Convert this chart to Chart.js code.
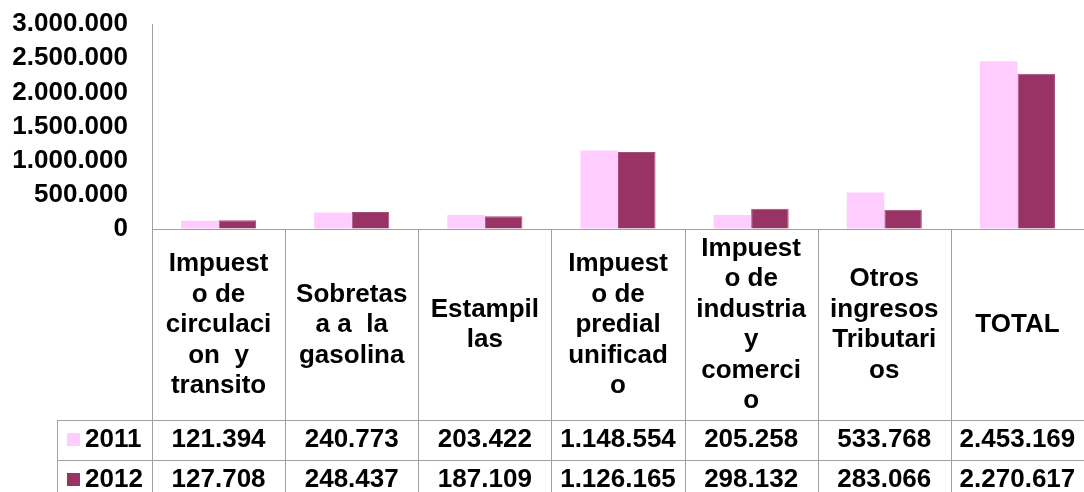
<!DOCTYPE html>
<html>
<head>
<meta charset="utf-8">
<script src="https://cdn.jsdelivr.net/npm/chart.js@4"></script>
<style>
  html, body { margin: 0; padding: 0; background: #ffffff; }
  #wrap { position: relative; width: 1084px; height: 492px; }
</style>
</head>
<body>
<div id="wrap"><canvas id="c"></canvas></div>
<script>
// ---- data ----
const categoryLines = [
  ["Impuest", "o de", "circulaci", "on  y", "transito"],
  ["Sobretas", "a a  la", "gasolina"],
  ["Estampil", "las"],
  ["Impuest", "o de", "predial", "unificad", "o"],
  ["Impuest", "o de", "industria", "y", "comerci", "o"],
  ["Otros", "ingresos", "Tributari", "os"],
  ["TOTAL"]
];
const seriesNames = ["2011", "2012"];
const values2011 = [121394, 240773, 203422, 1148554, 205258, 533768, 2453169];
const values2012 = [127708, 248437, 187109, 1126165, 298132, 283066, 2270617];
const yTickValues = [0, 500000, 1000000, 1500000, 2000000, 2500000, 3000000];
const seriesColors = ["#FFCCFF", "#993366"];

function fmt(v) {
  return String(v).replace(/\B(?=(\d{3})+(?!\d))/g, ".");
}

const FONT = "bold 26px 'Liberation Sans', Arial, sans-serif";
const GRID = "#A0A0A0";

const tablePlugin = {
  id: "dataTable",
  afterDraw(chart) {
    const ctx = chart.ctx;
    const a = chart.chartArea;
    const xs = chart.scales.x;
    const n = categoryLines.length;
    const cw = (a.right - a.left) / n;
    const H = chart.height;
    const headerBottom = a.bottom + 191;
    const row1Bottom = headerBottom + 40;
    const legendLeft = 57;

    ctx.save();
    ctx.strokeStyle = GRID;
    ctx.lineWidth = 1;
    ctx.beginPath();
    ctx.moveTo(a.left, Math.round(a.bottom) + 0.5);
    ctx.lineTo(a.right, Math.round(a.bottom) + 0.5);
    ctx.moveTo(legendLeft, headerBottom + 0.5);
    ctx.lineTo(a.right, headerBottom + 0.5);
    ctx.moveTo(legendLeft, row1Bottom + 0.5);
    ctx.lineTo(a.right, row1Bottom + 0.5);
    ctx.moveTo(legendLeft + 0.5, headerBottom);
    ctx.lineTo(legendLeft + 0.5, H);
    for (let i = 0; i <= n; i++) {
      const x = Math.round(a.left + i * cw) + 0.5;
      ctx.moveTo(x, i === 0 ? a.top : a.bottom);
      ctx.lineTo(x, H);
    }
    ctx.stroke();

    ctx.fillStyle = "#000000";
    ctx.font = FONT;
    ctx.textAlign = "center";
    ctx.textBaseline = "middle";
    const lh = 30.5;
    const hc = a.bottom + 96;
    categoryLines.forEach((lines, i) => {
      const cx = xs.getPixelForValue(i);
      const y0 = hc - (lines.length - 1) * lh / 2;
      lines.forEach((t, j) => ctx.fillText(t, cx, y0 + j * lh));
    });

    const rows = [values2011, values2012];
    const rowY = [headerBottom + 20, row1Bottom + 20];
    rows.forEach((vals, r) => {
      vals.forEach((v, i) => {
        ctx.fillText(fmt(v), xs.getPixelForValue(i), rowY[r]);
      });
      ctx.fillStyle = seriesColors[r];
      ctx.fillRect(67, rowY[r] - 7, 13, 13);
      ctx.fillStyle = "#000000";
      ctx.textAlign = "left";
      ctx.fillText(seriesNames[r], 85, rowY[r]);
      ctx.textAlign = "center";
    });
    ctx.restore();
  }
};

new Chart(document.getElementById("c"), {
  type: "bar",
  data: {
    labels: categoryLines.map(l => l.join(" ")),
    datasets: [
      { label: seriesNames[0], data: values2011, backgroundColor: seriesColors[0], borderWidth: 0 },
      { label: seriesNames[1], data: values2012, backgroundColor: seriesColors[1], borderColor: "#A34F7A", borderWidth: 1 }
    ]
  },
  options: {
    responsive: true,
    maintainAspectRatio: false,
    animation: false,
    events: [],
    layout: { padding: { top: 24, right: 0, bottom: 263, left: 0 } },
    plugins: { legend: { display: false }, tooltip: { enabled: false }, title: { display: false } },
    datasets: { bar: { categoryPercentage: 0.564, barPercentage: 1.0 } },
    scales: {
      x: {
        display: false,
        offset: true
      },
      y: {
        min: 0,
        max: 3000000,
        afterFit(scale) { scale.width = 152; scale.paddingTop = 0; scale.paddingBottom = 0; },
        afterBuildTicks(scale) { scale.ticks = yTickValues.map(v => ({ value: v })); },
        grid: { display: true, drawOnChartArea: false, drawTicks: false },
        border: { display: true, color: GRID, width: 1 },
        ticks: {
          autoSkip: false,
          padding: 24,
          color: "#000000",
          font: { family: "'Liberation Sans', Arial, sans-serif", size: 26, weight: "bold", lineHeight: 1.0 },
          callback: v => fmt(v)
        }
      }
    }
  },
  plugins: [tablePlugin]
});
</script>
</body>
</html>
